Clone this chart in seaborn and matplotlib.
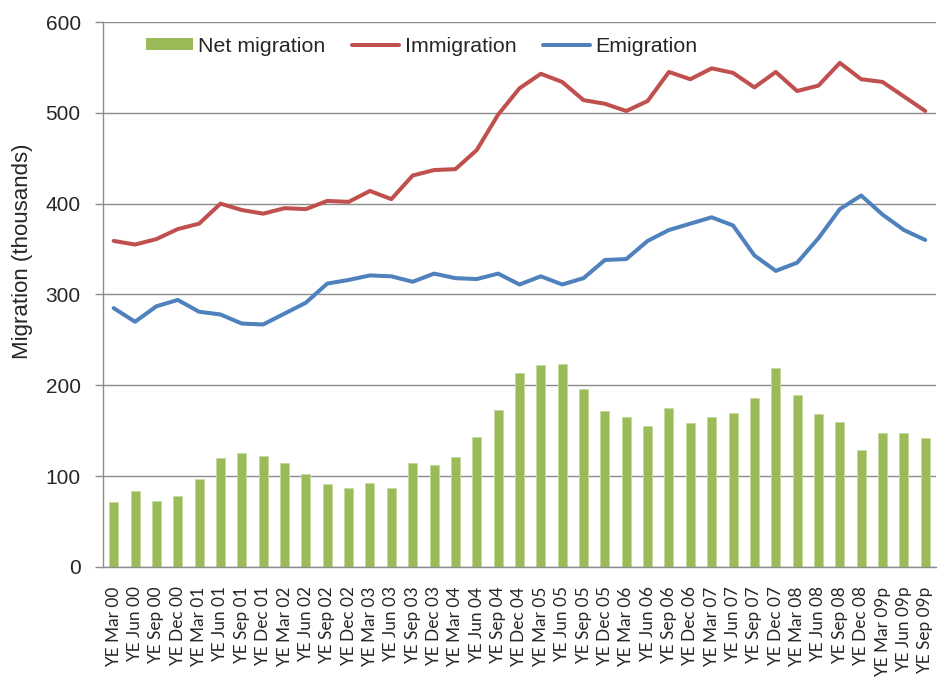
import numpy as np
import pandas as pd
import matplotlib
matplotlib.use("Agg")
import matplotlib.pyplot as plt
import seaborn as sns
from matplotlib.patches import Patch
from matplotlib.lines import Line2D

periods = ["YE Mar 00", "YE Jun 00", "YE Sep 00", "YE Dec 00",
           "YE Mar 01", "YE Jun 01", "YE Sep 01", "YE Dec 01",
           "YE Mar 02", "YE Jun 02", "YE Sep 02", "YE Dec 02",
           "YE Mar 03", "YE Jun 03", "YE Sep 03", "YE Dec 03",
           "YE Mar 04", "YE Jun 04", "YE Sep 04", "YE Dec 04",
           "YE Mar 05", "YE Jun 05", "YE Sep 05", "YE Dec 05",
           "YE Mar 06", "YE Jun 06", "YE Sep 06", "YE Dec 06",
           "YE Mar 07", "YE Jun 07", "YE Sep 07", "YE Dec 07",
           "YE Mar 08", "YE Jun 08", "YE Sep 08", "YE Dec 08",
           "YE Mar 09p", "YE Jun 09p", "YE Sep 09p"]

net_migration = [71, 84, 73, 78, 97, 120, 126, 122, 115, 102, 91, 87,
                 92, 87, 115, 112, 121, 143, 173, 214, 222, 223, 196, 172,
                 165, 155, 175, 159, 165, 170, 186, 219, 189, 168, 160, 129,
                 147, 147, 142]

immigration = [359, 355, 361, 372, 378, 400, 393, 389, 395, 394, 403, 402,
               414, 405, 431, 437, 438, 459, 498, 527, 543, 534, 514, 510,
               502, 513, 545, 537, 549, 544, 528, 545, 524, 530, 555, 537,
               534, 518, 502]

emigration = [285, 270, 287, 294, 281, 278, 268, 267, 279, 291, 312, 316,
              321, 320, 314, 323, 318, 317, 323, 311, 320, 311, 318, 338,
              339, 359, 371, 378, 385, 376, 343, 326, 335, 362, 394, 409,
              388, 371, 360]

green = "#9BBB59"
red = "#C0504D"
blue = "#4F81BD"
grid_c = "#8C8C8C"

df = pd.DataFrame({"period": periods, "net": net_migration,
                   "imm": immigration, "emi": emigration})
df["idx"] = np.arange(len(df))

sns.set_style("white")
plt.rcParams["font.family"] = ["Liberation Sans", "DejaVu Sans"]

fig = plt.figure(figsize=(9.38, 6.77), dpi=100)
ax = fig.add_axes([0.1098, 0.1625, 0.888, 0.805])

sns.barplot(data=df, x="period", y="net", color=green, width=0.42,
            saturation=1, ax=ax, zorder=2, edgecolor="#C5D9A0", linewidth=0.6)
sns.lineplot(data=df, x="idx", y="imm", color=red, linewidth=2.9, ax=ax,
             zorder=3)
sns.lineplot(data=df, x="idx", y="emi", color=blue, linewidth=2.9, ax=ax,
             zorder=3)

ax.set_xlim(-0.5, len(periods) - 0.5)
ax.set_ylim(0, 600)
ax.set_yticks(np.arange(0, 601, 100))
ax.yaxis.grid(True, color=grid_c, linewidth=1.0, zorder=0)
ax.xaxis.grid(False)
ax.set_axisbelow(True)

for s in ["top", "right"]:
    ax.spines[s].set_visible(False)
for s in ["left", "bottom"]:
    ax.spines[s].set_color(grid_c)
    ax.spines[s].set_linewidth(1.0)

ax.set_xticks(np.arange(len(periods)))
ax.set_xticklabels(periods, rotation=90, fontsize=12.4, family=["Lato", "DejaVu Sans"])
ax.set_xticks(np.arange(-0.5, len(periods)), minor=True)
ax.tick_params(axis="x", which="major", length=0, pad=14)
ax.tick_params(axis="x", which="minor", length=5, color=grid_c, width=1)
ax.tick_params(axis="y", which="major", length=6, color=grid_c, width=1,
               labelsize=15, pad=10, left=True)

ax.set_xlabel("")
ax.set_ylabel("Migration (thousands)", fontsize=16)
ax.yaxis.set_label_coords(-0.084, 0.58)

handles = [Patch(facecolor=green, edgecolor="none"),
           Line2D([0], [0], color=red, linewidth=2.9),
           Line2D([0], [0], color=blue, linewidth=2.9)]
ax.legend(handles, ["Net migration", "Immigration", "Emigration"],
          loc="upper left", bbox_to_anchor=(0.0516, 0.973), ncol=3,
          frameon=False, fontsize=15.4, handlelength=2.2, handleheight=0.5,
          handletextpad=0.25, columnspacing=1.25, borderpad=0,
          borderaxespad=0)

fig.savefig("out.png", dpi=100)
